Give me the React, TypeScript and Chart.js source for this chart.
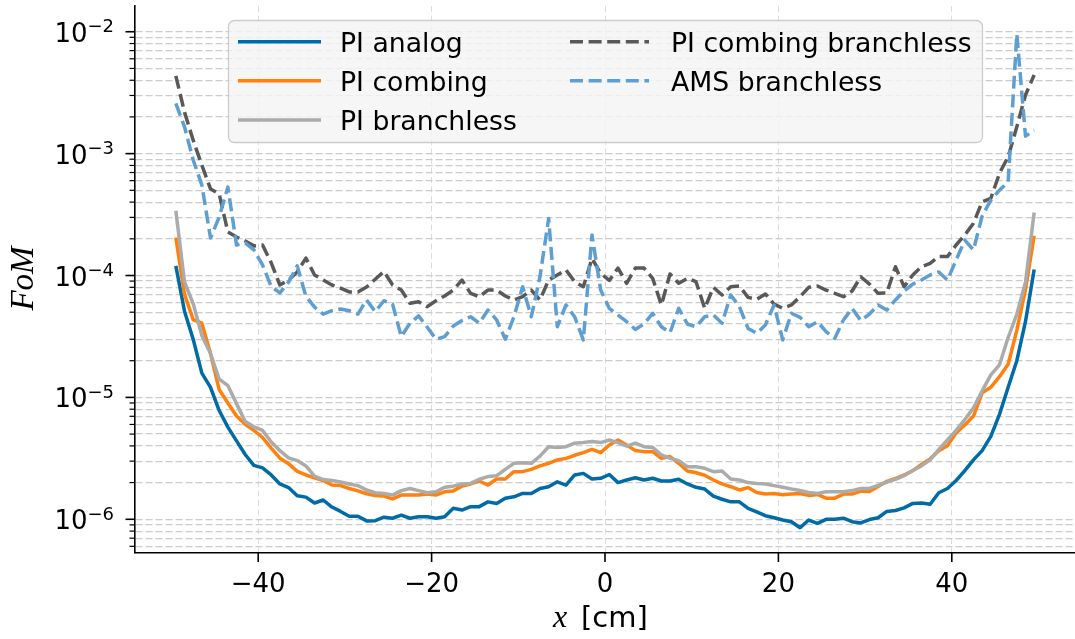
import React, { useEffect, useRef } from 'react';
import { Chart, registerables } from 'chart.js';

Chart.register(...registerables);

// ---- data -------------------------------------------------------------
const X_CM = [
  -49.5, -48.5, -47.5, -46.5, -45.5, -44.5, -43.5, -42.5, -41.5, -40.5,
  -39.5, -38.5, -37.5, -36.5, -35.5, -34.5, -33.5, -32.5, -31.5, -30.5,
  -29.5, -28.5, -27.5, -26.5, -25.5, -24.5, -23.5, -22.5, -21.5, -20.5,
  -19.5, -18.5, -17.5, -16.5, -15.5, -14.5, -13.5, -12.5, -11.5, -10.5,
  -9.5, -8.5, -7.5, -6.5, -5.5, -4.5, -3.5, -2.5, -1.5, -0.5,
  0.5, 1.5, 2.5, 3.5, 4.5, 5.5, 6.5, 7.5, 8.5, 9.5,
  10.5, 11.5, 12.5, 13.5, 14.5, 15.5, 16.5, 17.5, 18.5, 19.5,
  20.5, 21.5, 22.5, 23.5, 24.5, 25.5, 26.5, 27.5, 28.5, 29.5,
  30.5, 31.5, 32.5, 33.5, 34.5, 35.5, 36.5, 37.5, 38.5, 39.5,
  40.5, 41.5, 42.5, 43.5, 44.5, 45.5, 46.5, 47.5, 48.5, 49.5,
];

const PI_ANALOG = [
  1.2e-4, 5.1e-5, 3.0e-5, 1.58e-5, 1.21e-5, 7.8e-6, 5.7e-6, 4.4e-6, 3.4e-6, 2.77e-6,
  2.64e-6, 2.31e-6, 1.95e-6, 1.82e-6, 1.56e-6, 1.52e-6, 1.36e-6, 1.44e-6, 1.26e-6, 1.16e-6,
  1.06e-6, 1.06e-6, 9.7e-7, 9.75e-7, 1.04e-6, 1.02e-6, 1.08e-6, 1.02e-6, 1.05e-6, 1.05e-6,
  1.02e-6, 1.05e-6, 1.23e-6, 1.19e-6, 1.27e-6, 1.27e-6, 1.39e-6, 1.35e-6, 1.49e-6, 1.53e-6,
  1.63e-6, 1.63e-6, 1.79e-6, 1.85e-6, 2.03e-6, 1.91e-6, 2.31e-6, 2.38e-6, 2.14e-6, 2.17e-6,
  2.33e-6, 2.0e-6, 2.1e-6, 2.19e-6, 2.1e-6, 2.17e-6, 2.06e-6, 2.06e-6, 2.13e-6, 1.95e-6,
  1.83e-6, 1.77e-6, 1.55e-6, 1.46e-6, 1.39e-6, 1.39e-6, 1.23e-6, 1.15e-6, 1.07e-6, 1.03e-6,
  9.86e-7, 9.55e-7, 8.53e-7, 9.86e-7, 9.27e-7, 1.0e-6, 1.0e-6, 1.02e-6, 9.55e-7, 9.33e-7,
  9.95e-7, 1.03e-6, 1.16e-6, 1.18e-6, 1.24e-6, 1.35e-6, 1.36e-6, 1.33e-6, 1.65e-6, 1.79e-6,
  2.08e-6, 2.51e-6, 3.07e-6, 3.66e-6, 4.79e-6, 7.26e-6, 1.21e-5, 2.0e-5, 4.2e-5, 1.12e-4,
];

const PI_COMBING = [
  2.05e-4, 7.0e-5, 4.35e-5, 4.06e-5, 2.29e-5, 1.16e-5, 9.0e-6, 7.03e-6, 6.01e-6, 5.36e-6,
  4.69e-6, 3.83e-6, 3.17e-6, 2.86e-6, 2.47e-6, 2.31e-6, 2.19e-6, 2.08e-6, 1.91e-6, 1.89e-6,
  1.79e-6, 1.71e-6, 1.62e-6, 1.57e-6, 1.55e-6, 1.47e-6, 1.58e-6, 1.58e-6, 1.58e-6, 1.61e-6,
  1.58e-6, 1.68e-6, 1.71e-6, 1.87e-6, 1.95e-6, 2.06e-6, 1.91e-6, 2.14e-6, 2.14e-6, 2.46e-6,
  2.46e-6, 2.57e-6, 2.74e-6, 2.88e-6, 3.07e-6, 3.16e-6, 3.35e-6, 3.52e-6, 3.75e-6, 3.52e-6,
  4.07e-6, 4.47e-6, 4.07e-6, 3.66e-6, 3.59e-6, 3.59e-6, 3.16e-6, 3.27e-6, 2.88e-6, 2.49e-6,
  2.41e-6, 2.3e-6, 2.1e-6, 1.95e-6, 1.85e-6, 1.74e-6, 1.82e-6, 1.66e-6, 1.61e-6, 1.63e-6,
  1.59e-6, 1.61e-6, 1.63e-6, 1.57e-6, 1.6e-6, 1.49e-6, 1.49e-6, 1.61e-6, 1.61e-6, 1.7e-6,
  1.69e-6, 1.86e-6, 2.05e-6, 2.16e-6, 2.31e-6, 2.51e-6, 2.82e-6, 3.13e-6, 3.66e-6, 4.02e-6,
  5.12e-6, 5.94e-6, 7.03e-6, 1.09e-5, 1.21e-5, 1.48e-5, 1.87e-5, 3.55e-5, 7.7e-5, 2.12e-4,
];

const PI_BRANCHLESS = [
  3.4e-4, 8.85e-5, 5.89e-5, 3.21e-5, 2.29e-5, 1.41e-5, 1.25e-5, 8.89e-6, 6.35e-6, 5.74e-6,
  5.36e-6, 4.3e-6, 3.66e-6, 3.19e-6, 3.03e-6, 2.74e-6, 2.26e-6, 2.12e-6, 2.08e-6, 2.02e-6,
  1.95e-6, 1.89e-6, 1.74e-6, 1.65e-6, 1.63e-6, 1.58e-6, 1.72e-6, 1.79e-6, 1.72e-6, 1.65e-6,
  1.68e-6, 1.83e-6, 1.87e-6, 1.95e-6, 1.97e-6, 2.13e-6, 2.24e-6, 2.28e-6, 2.57e-6, 2.88e-6,
  2.91e-6, 2.88e-6, 3.3e-6, 3.94e-6, 3.89e-6, 3.94e-6, 4.21e-6, 4.26e-6, 4.34e-6, 4.26e-6,
  4.47e-6, 4.26e-6, 3.99e-6, 4.21e-6, 3.94e-6, 3.89e-6, 3.37e-6, 3.16e-6, 3.03e-6, 2.7e-6,
  2.7e-6, 2.62e-6, 2.46e-6, 2.49e-6, 2.14e-6, 2.1e-6, 2.0e-6, 1.97e-6, 1.95e-6, 1.89e-6,
  1.83e-6, 1.77e-6, 1.72e-6, 1.66e-6, 1.63e-6, 1.68e-6, 1.68e-6, 1.68e-6, 1.72e-6, 1.79e-6,
  1.79e-6, 1.9e-6, 2.02e-6, 2.13e-6, 2.28e-6, 2.51e-6, 2.74e-6, 3.07e-6, 3.75e-6, 4.47e-6,
  5.36e-6, 6.58e-6, 8.2e-6, 1.13e-5, 1.53e-5, 1.85e-5, 3.1e-5, 4.81e-5, 8.83e-5, 3.29e-4,
];

const PI_COMBING_BRANCHLESS = [
  4.34e-3, 2.19e-3, 1.29e-3, 8.05e-4, 5.13e-4, 4.67e-4, 2.28e-4, 2.07e-4, 1.92e-4, 1.75e-4,
  1.78e-4, 1.27e-4, 8.36e-5, 9.18e-5, 1.07e-4, 1.39e-4, 1.01e-4, 9.18e-5, 8.36e-5, 7.89e-5,
  7.33e-5, 7.33e-5, 8.04e-5, 9.33e-5, 1.08e-4, 8.36e-5, 7.6e-5, 5.92e-5, 6.1e-5, 5.55e-5,
  6.21e-5, 6.79e-5, 7.6e-5, 9.18e-5, 7.14e-5, 6.7e-5, 7.6e-5, 7.6e-5, 6.79e-5, 6.3e-5,
  6.7e-5, 7.6e-5, 6.3e-5, 9.18e-5, 1.01e-4, 1.11e-4, 8.89e-5, 8.09e-5, 1.38e-4, 1.04e-4,
  9.12e-5, 1.15e-4, 8.63e-5, 1.15e-4, 1.15e-4, 9.48e-5, 5.73e-5, 1.03e-4, 8.63e-5, 9.48e-5,
  8.89e-5, 5.38e-5, 8.0e-5, 6.92e-5, 8.09e-5, 8.2e-5, 6.62e-5, 6.38e-5, 7.05e-5, 5.83e-5,
  5.38e-5, 5.73e-5, 6.7e-5, 8.0e-5, 8.2e-5, 7.6e-5, 7.14e-5, 6.7e-5, 7.46e-5, 9.77e-5,
  8.51e-5, 7.14e-5, 7.18e-5, 1.18e-4, 8.09e-5, 1.01e-4, 1.18e-4, 1.26e-4, 1.43e-4, 1.43e-4,
  1.78e-4, 2.15e-4, 2.68e-4, 4.03e-4, 4.3e-4, 6.89e-4, 9.44e-4, 1.66e-3, 3.03e-3, 4.42e-3,
];

const AMS_BRANCHLESS = [
  2.58e-3, 1.66e-3, 8.87e-4, 5.52e-4, 2.03e-4, 3.02e-4, 5.31e-4, 1.78e-4, 1.85e-4, 1.62e-4,
  1.22e-4, 8.13e-5, 7.21e-5, 8.83e-5, 1.2e-4, 6.76e-5, 5.5e-5, 4.82e-5, 5.14e-5, 5.31e-5,
  5.14e-5, 4.82e-5, 6.31e-5, 5.05e-5, 6.21e-5, 5.83e-5, 3.15e-5, 4.06e-5, 4.66e-5, 3.76e-5,
  3.0e-5, 3.15e-5, 3.85e-5, 4.27e-5, 4.59e-5, 4.06e-5, 5.21e-5, 4.32e-5, 3.0e-5, 4.59e-5,
  8.09e-5, 4.59e-5, 9.77e-5, 2.94e-4, 3.8e-5, 5.73e-5, 4.59e-5, 2.96e-5, 2.15e-4, 7.6e-5,
  5.37e-5, 4.74e-5, 4.18e-5, 3.61e-5, 4.0e-5, 4.9e-5, 3.8e-5, 3.4e-5, 5.38e-5, 4.0e-5,
  3.8e-5, 4.59e-5, 4.74e-5, 4.06e-5, 6.92e-5, 5.55e-5, 3.68e-5, 3.36e-5, 3.93e-5, 5.73e-5,
  2.96e-5, 4.9e-5, 4.54e-5, 3.8e-5, 4.18e-5, 3.46e-5, 3.05e-5, 4.32e-5, 5.38e-5, 4.27e-5,
  4.83e-5, 5.73e-5, 5.21e-5, 6.3e-5, 7.46e-5, 8.51e-5, 9.18e-5, 1.01e-4, 1.07e-4, 9.18e-5,
  1.34e-4, 1.95e-4, 1.62e-4, 3.08e-4, 4.16e-4, 5.02e-4, 5.85e-4, 9.57e-3, 1.39e-3, 1.56e-3,
];

const SERIES_LABELS = ['PI analog', 'PI combing', 'PI branchless', 'PI combing branchless', 'AMS branchless'];
const SERIES_VALUES = [PI_ANALOG, PI_COMBING, PI_BRANCHLESS, PI_COMBING_BRANCHLESS, AMS_BRANCHLESS];
const SERIES_COLORS = ['#006BA4', '#FF800E', '#ABABAB', '#595959', '#5F9ED1'];
const SERIES_DASHED = [false, false, false, true, true];

const X_TICKS = [-40, -20, 0, 20, 40];
const X_TICK_LABELS = ['\u221240', '\u221220', '0', '20', '40'];
const Y_DECADES = [1e-6, 1e-5, 1e-4, 1e-3, 1e-2];
const Y_DECADE_EXPONENTS = ['\u22126', '\u22125', '\u22124', '\u22123', '\u22122'];

const X_MIN = -54.21;
const X_MAX = 54.21;
const Y_MIN = 5.29e-7;
const Y_MAX = 1.626e-2;

// ---- style ------------------------------------------------------------
const LINE_W = 3.5;
const DASH = [13, 5.6];
const SANS = '"DejaVu Sans", sans-serif';
const MATH = '"Liberation Serif", serif';

function gridValues(): number[] {
  const out: number[] = [];
  for (let e = -7; e <= -2; e++) {
    for (let k = 1; k <= 9; k++) {
      const v = k * Math.pow(10, e);
      if (v >= Y_MIN && v <= Y_MAX) out.push(v);
    }
  }
  return out;
}

const overlayPlugin = {
  id: 'overlay',
  afterDraw(chart: any) {
    const { ctx, chartArea: ca, scales } = chart;
    const xs = scales.x;
    const ys = scales.y;
    ctx.save();
    ctx.strokeStyle = '#000';
    ctx.fillStyle = '#000';
    ctx.setLineDash([]);

    // x tick marks + labels
    ctx.lineWidth = 1.6;
    ctx.font = `26px ${SANS}`;
    ctx.textAlign = 'center';
    ctx.textBaseline = 'alphabetic';
    X_TICKS.forEach((v, i) => {
      const px = xs.getPixelForValue(v);
      ctx.beginPath();
      ctx.moveTo(px, ca.bottom);
      ctx.lineTo(px, ca.bottom + 9);
      ctx.stroke();
      ctx.fillText(X_TICK_LABELS[i], px, 592);
    });

    // y tick marks (major + minor)
    gridValues().forEach((v) => {
      const py = ys.getPixelForValue(v);
      const major = Y_DECADES.some((d) => Math.abs(d - v) / d < 1e-9);
      ctx.lineWidth = major ? 1.6 : 1.2;
      ctx.beginPath();
      ctx.moveTo(ca.left, py);
      ctx.lineTo(ca.left - (major ? 9.5 : 5.5), py);
      ctx.stroke();
    });

    // y tick labels 10^-n
    ctx.textAlign = 'left';
    Y_DECADES.forEach((v, i) => {
      const py = ys.getPixelForValue(v);
      ctx.font = `26px ${SANS}`;
      const w1 = ctx.measureText('10').width;
      ctx.font = `18px ${SANS}`;
      const w2 = ctx.measureText(Y_DECADE_EXPONENTS[i]).width;
      const x0 = 114 - w1 - w2;
      ctx.font = `26px ${SANS}`;
      ctx.fillText('10', x0, py + 10);
      ctx.font = `18px ${SANS}`;
      ctx.fillText(Y_DECADE_EXPONENTS[i], x0 + w1, py + 0.5);
    });

    // axis titles
    ctx.font = `italic 32px ${MATH}`;
    ctx.fillText('x', 553, 627);
    ctx.font = `29px ${SANS}`;
    ctx.fillText('[cm]', 581, 627);

    ctx.save();
    ctx.translate(33, 278.5);
    ctx.rotate(-Math.PI / 2);
    ctx.textAlign = 'center';
    ctx.font = `italic 33px ${MATH}`;
    ctx.fillText('FoM', 0, 0);
    ctx.restore();

    // legend
    ctx.beginPath();
    ctx.roundRect(228.5, 20.5, 754, 122, 6);
    ctx.fillStyle = 'rgba(244,244,244,0.82)';
    ctx.fill();
    ctx.lineWidth = 1.3;
    ctx.strokeStyle = '#cccccc';
    ctx.stroke();

    const rowsY = [41.7, 80.7, 120];
    const cols = [
      { x0: 238, x1: 321, tx: 340 },
      { x0: 570, x1: 649, tx: 671 },
    ];
    ctx.font = `26.7px ${SANS}`;
    ctx.textAlign = 'left';
    SERIES_LABELS.forEach((label, i) => {
      const col = i < 3 ? cols[0] : cols[1];
      const y = rowsY[i < 3 ? i : i - 3];
      ctx.strokeStyle = SERIES_COLORS[i];
      ctx.lineWidth = LINE_W;
      ctx.lineCap = 'butt';
      ctx.setLineDash(SERIES_DASHED[i] ? DASH : []);
      ctx.beginPath();
      ctx.moveTo(col.x0, y);
      ctx.lineTo(col.x1, y);
      ctx.stroke();
      ctx.setLineDash([]);
      ctx.fillStyle = '#000';
      ctx.fillText(label, col.tx, y + 10);
    });

    ctx.restore();
  },
};

export default function App() {
  const canvasRef = useRef<HTMLCanvasElement | null>(null);

  useEffect(() => {
    if (!canvasRef.current) return;
    const datasets = SERIES_LABELS.map((label, i) => ({
      label,
      data: X_CM.map((x, j) => ({ x, y: SERIES_VALUES[i][j] })),
      borderColor: SERIES_COLORS[i],
      backgroundColor: SERIES_COLORS[i],
      borderWidth: LINE_W,
      borderDash: SERIES_DASHED[i] ? DASH : [],
      borderJoinStyle: 'round' as const,
      borderCapStyle: 'butt' as const,
      pointRadius: 0,
      pointHoverRadius: 0,
      fill: false,
      tension: 0,
      order: SERIES_LABELS.length - i,
    }));

    const chart = new Chart(canvasRef.current, {
      type: 'line',
      data: { datasets },
      options: {
        responsive: false,
        animation: false,
        devicePixelRatio: 1,
        parsing: false as any,
        normalized: true,
        layout: { padding: { left: 0, right: 0, top: 6, bottom: 0 } },
        plugins: { legend: { display: false }, tooltip: { enabled: false } },
        events: [],
        scales: {
          x: {
            type: 'linear',
            min: X_MIN,
            max: X_MAX,
            afterBuildTicks: (s: any) => {
              s.ticks = X_TICKS.map((v) => ({ value: v }));
            },
            afterFit: (s: any) => {
              s.height = 86;
            },
            ticks: { display: false },
            grid: { color: '#dcdcdc', lineWidth: 1, drawTicks: false },
            border: { display: true, color: '#000', width: 1.6, dash: [6, 3.5] },
          },
          y: {
            type: 'logarithmic',
            min: Y_MIN,
            max: Y_MAX,
            afterBuildTicks: (s: any) => {
              s.ticks = gridValues().map((v) => ({ value: v }));
            },
            afterFit: (s: any) => {
              s.width = 135;
            },
            ticks: { display: false },
            grid: { color: '#cccccc', lineWidth: 1.2, drawTicks: false },
            border: { display: true, color: '#000', width: 1.6, dash: [7, 3] },
          },
        },
      },
      plugins: [overlayPlugin],
    });
    return () => chart.destroy();
  }, []);

  return (
    <div style={{ position: 'fixed', left: 0, top: 0, width: 1075, height: 639, background: '#fff' }}>
      <canvas ref={canvasRef} width={1075} height={639} style={{ display: 'block' }} />
    </div>
  );
}
